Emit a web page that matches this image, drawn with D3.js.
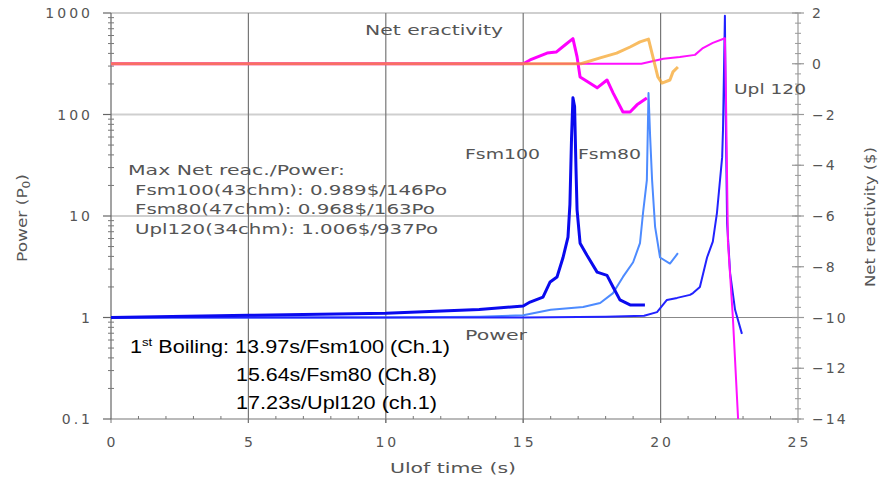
<!DOCTYPE html>
<html>
<head>
<meta charset="utf-8">
<script src="https://cdn.jsdelivr.net/npm/d3@7"></script>
<style>
  body { margin: 0; background: #fff; }
  svg { display: block; }
  .gray { fill: #555; font-family: "DejaVu Sans", sans-serif; }
</style>
</head>
<body>
<div id="chart"></div>
<script>
const width = 880;
const height = 484;

// power (P0) vs time (s)
const fsm100Power = [[0,1.0],[5,1.05],[10,1.1],[13.4,1.2],[15,1.3],[15.25,1.42],[15.72,1.59],[15.98,2.24],[16.23,2.51],[16.45,3.9],[16.63,6.2],[16.7,13],[16.76,60],[16.81,146],[16.87,120],[16.92,30],[16.96,11.5],[17.07,5.4],[17.32,4.1],[17.69,2.8],[18.05,2.6],[18.27,2.0],[18.52,1.49],[18.89,1.33],[19.43,1.33]];
const fsm80Power = [[0,1.0],[10,1.0],[13.4,1.02],[15,1.05],[16,1.19],[17.18,1.27],[17.8,1.39],[18.27,1.74],[18.63,2.51],[19.0,3.5],[19.25,5.4],[19.36,10.7],[19.5,22.6],[19.56,163],[19.62,60],[19.69,22.6],[19.8,7.8],[19.98,3.9],[20.34,3.4],[20.63,4.3]];
const upl120Power = [[0,1.0],[15,1.0],[18,1.02],[19.4,1.04],[19.87,1.13],[20.23,1.49],[20.6,1.56],[21.07,1.67],[21.18,1.74],[21.43,2.0],[21.69,3.9],[21.9,5.6],[22.05,10.7],[22.24,38],[22.27,70],[22.34,937],[22.37,100],[22.42,8.5],[22.53,2.74],[22.71,1.19],[22.96,0.69]];

// net reactivity ($) vs time (s)
const fsm100React = [[0,0],[15,0],[15.25,0.15],[15.87,0.42],[16.2,0.46],[16.52,0.74],[16.81,0.99],[16.96,0.27],[17.07,-0.52],[17.36,-0.72],[17.69,-0.95],[18.05,-0.64],[18.27,-1.15],[18.63,-1.9],[18.89,-1.9],[19.14,-1.62],[19.5,-1.35]];
const fsm80React = [[0,0],[17.1,0],[17.8,0.23],[18.4,0.42],[18.89,0.66],[19.25,0.86],[19.56,0.97],[19.72,0.27],[19.9,-0.52],[20.05,-0.76],[20.34,-0.64],[20.45,-0.32],[20.63,-0.13]];
const upl120React = [[0,0],[19.3,0],[20.1,0.2],[20.7,0.27],[21.25,0.35],[21.54,0.62],[21.9,0.82],[22.34,1.006],[22.38,-1.43],[22.45,-7.0],[22.63,-10],[22.82,-14]];

const xTicks = [0, 5, 10, 15, 20, 25];
const powerTicks = [0.1, 1, 10, 100, 1000];
const reactTicks = [2, 0, -2, -4, -6, -8, -10, -12, -14];

const summaryLines = [
    "Max Net reac./Power:",
    "Fsm100(43chm): 0.989$/146Po",
    "Fsm80(47chm): 0.968$/163Po",
    "Upl120(34chm): 1.006$/937Po"
];
const boilingLines = ["13.97s/Fsm100 (Ch.1)", "15.64s/Fsm80 (Ch.8)", "17.23s/Upl120 (ch.1)"];

const area = { left: 111, right: 798, top: 13, bottom: 419 };

const xScale = d3.scaleLinear().domain([0, 25]).range([area.left, area.right]);
const yPower = d3.scaleLog().domain([0.1, 1000]).range([area.bottom, area.top]);
const yReact = d3.scaleLinear().domain([-14, 2]).range([area.bottom, area.top]);

const svg = d3.select("#chart").append("svg")
    .attr("width", width)
    .attr("height", height);

svg.append("clipPath").attr("id", "plot-clip")
    .append("rect")
    .attr("x", area.left).attr("y", area.top - 2)
    .attr("width", area.right - area.left).attr("height", area.bottom - area.top + 3);

// gridlines
const grid = svg.append("g").attr("class", "grid");
grid.selectAll(".hgrid")
    .data([1000, 100, 10])
    .join("line")
    .attr("x1", area.left).attr("x2", area.right)
    .attr("y1", d => yPower(d)).attr("y2", d => yPower(d))
    .attr("stroke", "#cfcfcf").attr("stroke-width", 2);
grid.append("line")
    .attr("x1", area.left).attr("x2", area.right)
    .attr("y1", yPower(1)).attr("y2", yPower(1))
    .attr("stroke", "#888").attr("stroke-width", 1.2);
grid.selectAll(".vgrid")
    .data([5, 10, 15, 20])
    .join("line")
    .attr("x1", d => xScale(d)).attr("x2", d => xScale(d))
    .attr("y1", area.top).attr("y2", area.bottom + 4)
    .attr("stroke", "#777").attr("stroke-width", 1.2);

// bottom axis
const xAxis = svg.append("g").attr("transform", `translate(0,${area.bottom})`);
xAxis.append("line").attr("x1", area.left).attr("x2", area.right)
    .attr("stroke", "#777").attr("stroke-width", 1.2);
xAxis.selectAll(".minor").data(d3.range(0, 26))
    .join("line")
    .attr("x1", d => xScale(d)).attr("x2", d => xScale(d))
    .attr("y1", 0).attr("y2", d => d % 5 === 0 ? 4 : -3)
    .attr("stroke", "#777");
xAxis.selectAll("text").data(xTicks)
    .join("text")
    .attr("class", "gray")
    .attr("x", d => xScale(d) + 1.5)
    .attr("y", 28)
    .attr("text-anchor", "middle")
    .attr("font-size", 14)
    .attr("letter-spacing", 3)
    .text(d => d);

// left axis (log)
const yAxisL = svg.append("g").attr("transform", `translate(${area.left},0)`);
yAxisL.append("line").attr("y1", area.top).attr("y2", area.bottom)
    .attr("stroke", "#666").attr("stroke-width", 1.2);
const minorPower = [];
[0.1, 1, 10, 100].forEach(dec => d3.range(2, 10).forEach(k => minorPower.push(dec * k)));
yAxisL.selectAll(".minor").data(minorPower)
    .join("line")
    .attr("x1", -3).attr("x2", 3)
    .attr("y1", d => yPower(d)).attr("y2", d => yPower(d))
    .attr("stroke", "#777");
yAxisL.selectAll(".major").data(powerTicks)
    .join("line")
    .attr("x1", -8).attr("x2", 0)
    .attr("y1", d => yPower(d)).attr("y2", d => yPower(d))
    .attr("stroke", "#666").attr("stroke-width", 1.2);
yAxisL.selectAll("text").data(powerTicks)
    .join("text")
    .attr("class", "gray")
    .attr("x", -18)
    .attr("y", d => yPower(d) + 5)
    .attr("text-anchor", "end")
    .attr("font-size", 14)
    .attr("letter-spacing", 3)
    .text(d => d);

// right axis (linear)
const yAxisR = svg.append("g").attr("transform", `translate(${area.right},0)`);
yAxisR.append("line").attr("y1", area.top).attr("y2", area.bottom)
    .attr("stroke", "#999").attr("stroke-width", 1.2);
yAxisR.selectAll(".minor").data(d3.range(-14, 2.01, 0.4))
    .join("line")
    .attr("x1", -3).attr("x2", 3)
    .attr("y1", d => yReact(d)).attr("y2", d => yReact(d))
    .attr("stroke", "#999");
yAxisR.selectAll(".major").data(reactTicks)
    .join("line")
    .attr("x1", -6).attr("x2", 6)
    .attr("y1", d => yReact(d)).attr("y2", d => yReact(d))
    .attr("stroke", "#999").attr("stroke-width", 1.2);
yAxisR.selectAll("text").data(reactTicks)
    .join("text")
    .attr("class", "gray")
    .attr("x", 14)
    .attr("y", d => yReact(d) + 5)
    .attr("font-size", 14)
    .attr("letter-spacing", 2)
    .text(d => d3.format("")(d));

// axis titles
svg.append("text").attr("class", "gray")
    .attr("x", 390).attr("y", 473)
    .attr("font-size", 14)
    .attr("textLength", 126).attr("lengthAdjust", "spacingAndGlyphs")
    .text("Ulof time (s)");

const leftTitle = svg.append("text").attr("class", "gray")
    .attr("transform", "translate(27,262) rotate(-90)")
    .attr("font-size", 14)
    .attr("textLength", 88).attr("lengthAdjust", "spacingAndGlyphs");
leftTitle.append("tspan").text("Power (P");
leftTitle.append("tspan").attr("font-size", 10).attr("dy", 3).text("0");
leftTitle.append("tspan").attr("dy", -3).text(")");

svg.append("text").attr("class", "gray")
    .attr("transform", "translate(875,287) rotate(-90)")
    .attr("font-size", 14)
    .attr("textLength", 140).attr("lengthAdjust", "spacingAndGlyphs")
    .text("Net reactivity ($)");

// curves
const plot = svg.append("g").attr("clip-path", "url(#plot-clip)");
const powerLine = d3.line().x(d => xScale(d[0])).y(d => yPower(d[1]));
const reactLine = d3.line().x(d => xScale(d[0])).y(d => yReact(d[1]));

const powerSeries = [
    { data: fsm80Power, color: "#4d8bff", w: 2 },
    { data: upl120Power, color: "#2222ff", w: 2 },
    { data: fsm100Power, color: "#0a0aee", w: 3 }
];
const reactSeries = [
    { data: upl120React, color: "#ff10ff", w: 2, op: 1 },
    { data: fsm100React, color: "#ff00ff", w: 3, op: 1 },
    { data: fsm80React, color: "#f5a020", w: 3, op: 0.7 }
];

plot.selectAll(".power").data(powerSeries)
    .join("path")
    .attr("class", "power")
    .attr("d", d => powerLine(d.data))
    .attr("fill", "none")
    .attr("stroke", d => d.color)
    .attr("stroke-width", d => d.w)
    .attr("stroke-linejoin", "round");

plot.selectAll(".react").data(reactSeries)
    .join("path")
    .attr("class", "react")
    .attr("d", d => reactLine(d.data))
    .attr("fill", "none")
    .attr("stroke", d => d.color)
    .attr("stroke-width", d => d.w)
    .attr("stroke-opacity", d => d.op)
    .attr("stroke-linejoin", "round");

// labels on the plot
const labels = [
    { text: "Net eractivity", x: 365, y: 35, w: 138 },
    { text: "Fsm100", x: 465, y: 159, w: 75 },
    { text: "Fsm80", x: 578, y: 159, w: 63 },
    { text: "Upl 120", x: 734, y: 94, w: 72 },
    { text: "Power", x: 465, y: 340, w: 62 }
];
svg.selectAll(".label").data(labels)
    .join("text")
    .attr("class", "gray label")
    .attr("x", d => d.x).attr("y", d => d.y)
    .attr("font-size", 14)
    .attr("textLength", d => d.w).attr("lengthAdjust", "spacingAndGlyphs")
    .text(d => d.text);

const summaryWidths = [217, 312, 300, 303];
svg.selectAll(".summary").data(summaryLines)
    .join("text")
    .attr("class", "gray summary")
    .attr("x", (d, i) => i === 0 ? 128 : 135)
    .attr("y", (d, i) => 175 + i * 19.7)
    .attr("font-size", 14)
    .attr("textLength", (d, i) => summaryWidths[i]).attr("lengthAdjust", "spacingAndGlyphs")
    .text(d => d);

// first boiling note
const boil = svg.append("g")
    .attr("font-family", "Liberation Sans, Arial, sans-serif")
    .attr("font-size", 18)
    .attr("fill", "#000");
const first = boil.append("text").attr("x", 130).attr("y", 353)
    .attr("textLength", 320).attr("lengthAdjust", "spacingAndGlyphs");
first.append("tspan").text("1");
first.append("tspan").attr("font-size", 11).attr("dy", -7).text("st");
first.append("tspan").attr("dy", 7).text(" Boiling: " + boilingLines[0]);
boil.selectAll(".bl").data(boilingLines.slice(1))
    .join("text")
    .attr("class", "bl")
    .attr("x", 236)
    .attr("y", (d, i) => 381 + i * 28)
    .attr("textLength", 201).attr("lengthAdjust", "spacingAndGlyphs")
    .text(d => d);
</script>
</body>
</html>
